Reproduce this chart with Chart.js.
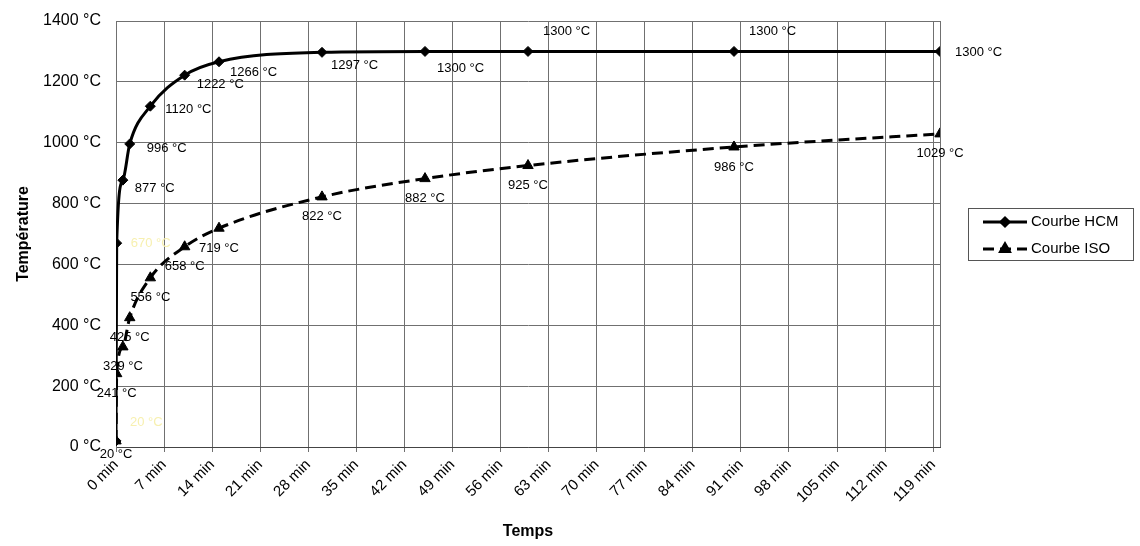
<!DOCTYPE html>
<html>
<head>
<meta charset="utf-8">
<script src="https://cdn.jsdelivr.net/npm/chart.js@4"></script>
<style>
  html, body { margin: 0; padding: 0; background: #fff; }
  #wrap { width: 1140px; height: 546px; }
</style>
</head>
<body>
<div id="wrap"><canvas id="fireChart" width="1140" height="546"></canvas></div>
<script>
// temps en minutes
const minutes = [0, 0.1, 1, 2, 5, 10, 15, 30, 45, 60, 90, 120];
const hcmValues = [20, 670, 877, 996, 1120, 1222, 1266, 1297, 1300, 1300, 1300, 1300];
const isoValues = [20, 241, 329, 425, 556, 658, 719, 822, 882, 925, 986, 1029];
const xTickMinutes = [0, 7, 14, 21, 28, 35, 42, 49, 56, 63, 70, 77, 84, 91, 98, 105, 112, 119];
const yTickValues = [0, 200, 400, 600, 800, 1000, 1200, 1400];
const seriesNames = ['Courbe HCM', 'Courbe ISO'];

const FONT = "'Liberation Sans', Arial, sans-serif";
const GRID = '#707070';

// where each value label sits relative to its point
const hcmLabelStyle = {
    align: 'left',
    dx: [14, 14, 12, 17, 15, 12, 11, 9, 12, 15, 15, 15],
    dy: [-18, 0, 8, 4, 3, 9, 11, 13, 17, -20, -20, 1],
    color: ['#f7f0b0', '#f7f0b0', '#000', '#000', '#000', '#000', '#000', '#000', '#000', '#000', '#000', '#000'],
};
const isoLabelStyle = {
    align: 'center',
    dx: [0, 0, 0, 0, 0, 0, 0, 0, 0, 0, 0, 0],
    dy: [14, 20, 20, 20, 20, 20, 20, 20, 20, 20, 20, 20],
    color: '#000',
};

function toPoints(values) {
    return values.map((v, i) => ({ x: minutes[i], y: v }));
}

const valueLabels = {
    id: 'valueLabels',
    afterDatasetsDraw(chart) {
        const ctx = chart.ctx;
        const styles = [hcmLabelStyle, isoLabelStyle];
        ctx.save();
        ctx.font = '13px ' + FONT;
        ctx.textBaseline = 'middle';
        chart.data.datasets.forEach((ds, di) => {
            const st = styles[di];
            ctx.textAlign = st.align;
            chart.getDatasetMeta(di).data.forEach((pt, i) => {
                ctx.fillStyle = Array.isArray(st.color) ? st.color[i] : st.color;
                ctx.fillText(ds.data[i].y + ' °C', pt.x + st.dx[i], pt.y + st.dy[i]);
            });
        });
        ctx.restore();
    }
};

// boxed legend on the right, like the original
const boxLegend = {
    id: 'boxLegend',
    afterDraw(chart) {
        const ctx = chart.ctx;
        const left = 968, top = 208, w = 165, h = 52;
        ctx.save();
        ctx.strokeStyle = '#555';
        ctx.lineWidth = 1;
        ctx.strokeRect(left + 0.5, top + 0.5, w, h);
        ctx.font = '15px ' + FONT;
        ctx.textBaseline = 'middle';
        ctx.textAlign = 'left';
        chart.data.datasets.forEach((ds, i) => {
            const y = top + 14 + i * 27;
            ctx.strokeStyle = ds.borderColor;
            ctx.lineWidth = ds.borderWidth;
            ctx.setLineDash(ds.borderDash || []);
            ctx.beginPath();
            ctx.moveTo(983, y);
            ctx.lineTo(1027, y);
            ctx.stroke();
            ctx.setLineDash([]);
            Chart.helpers.drawPoint(ctx, {
                pointStyle: ds.pointStyle,
                radius: ds.pointRadius - 1,
                borderWidth: 1,
            }, 1005, y);
            ctx.fillStyle = '#000';
            ctx.fillText(ds.label, 1031, y);
        });
        ctx.restore();
    }
};

const ctx = document.getElementById('fireChart').getContext('2d');
new Chart(ctx, {
    type: 'line',
    data: {
        datasets: [{
            label: seriesNames[0],
            data: toPoints(hcmValues),
            borderColor: '#000',
            backgroundColor: '#000',
            borderWidth: 3,
            pointStyle: 'rectRot',
            pointRadius: 5,
            pointBorderWidth: 1,
            cubicInterpolationMode: 'monotone',
        }, {
            label: seriesNames[1],
            data: toPoints(isoValues),
            borderColor: '#000',
            backgroundColor: '#000',
            borderWidth: 3,
            borderDash: [11, 6],
            pointStyle: 'triangle',
            pointRadius: 6,
            pointBorderWidth: 1,
            cubicInterpolationMode: 'monotone',
        }],
    },
    options: {
        responsive: false,
        animation: false,
        layout: { padding: { top: 21, right: 200, left: 0, bottom: 0 } },
        plugins: {
            legend: { display: false },
            tooltip: { enabled: false },
        },
        scales: {
            x: {
                type: 'linear',
                min: 0,
                max: 120,
                afterBuildTicks: (scale) => {
                    scale.ticks = xTickMinutes.concat([120]).map(v => ({ value: v }));
                },
                afterFit: (scale) => {
                    scale.height = 99;
                    scale.paddingTop = 0;
                    scale.paddingBottom = 0;
                },
                grid: {
                    color: GRID,
                    tickLength: 5,
                    tickColor: (c) => (c.tick && c.tick.value === 120 ? 'rgba(0,0,0,0)' : GRID),
                },
                border: { color: '#444', width: 1 },
                ticks: {
                    autoSkip: false,
                    minRotation: 45,
                    maxRotation: 45,
                    padding: 4,
                    color: '#000',
                    font: { family: FONT, size: 15 },
                    callback: (v) => (v === 120 ? '' : v + ' min'),
                },
                title: {
                    display: true,
                    text: 'Temps',
                    color: '#000',
                    font: { family: FONT, size: 16, weight: 'bold' },
                    padding: { top: 0, bottom: 5 },
                },
            },
            y: {
                min: 0,
                max: 1400,
                afterBuildTicks: (scale) => {
                    scale.ticks = yTickValues.map(v => ({ value: v }));
                },
                afterFit: (scale) => {
                    scale.width = 116;
                    scale.paddingTop = 0;
                    scale.paddingBottom = 0;
                },
                grid: { color: GRID, drawTicks: false },
                border: { color: GRID },
                ticks: {
                    padding: 15,
                    color: '#000',
                    font: { family: FONT, size: 16 },
                    callback: (v) => v + ' °C',
                },
                title: {
                    display: true,
                    text: 'Température',
                    color: '#000',
                    font: { family: FONT, size: 16, weight: 'bold' },
                    padding: { top: 14, bottom: 0 },
                },
            },
        },
    },
    plugins: [valueLabels, boxLegend],
});
</script>
</body>
</html>
